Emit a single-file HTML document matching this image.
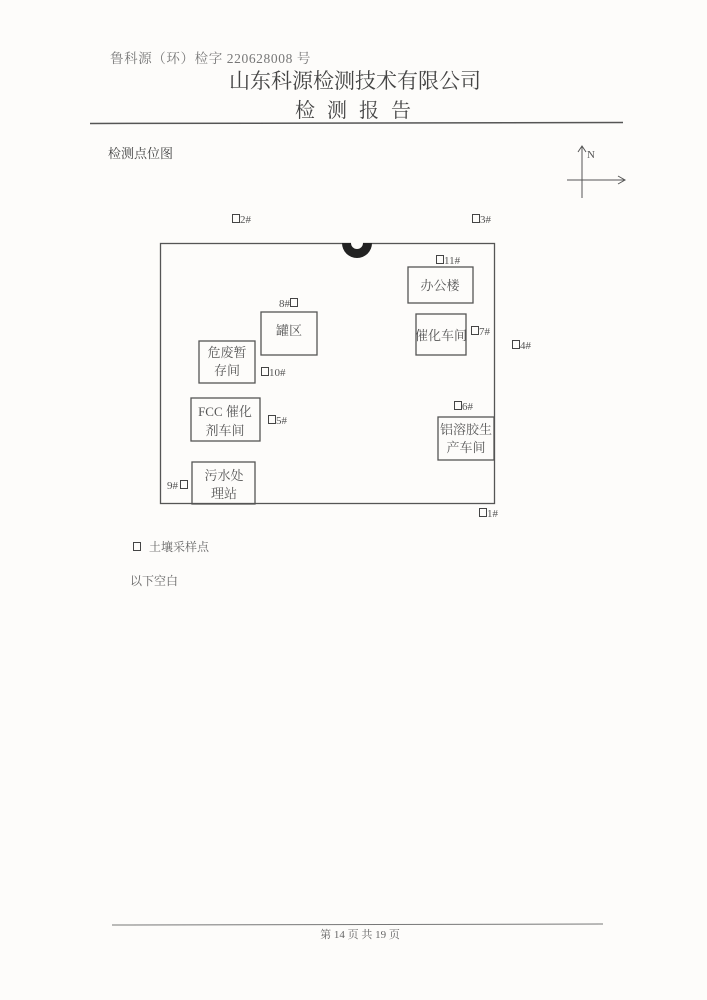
<!DOCTYPE html>
<html><head><meta charset="utf-8"><style>
html,body{margin:0;padding:0;background:#fdfcfa;}
svg{display:block;}
text{font-family:"Liberation Serif","Noto Serif CJK SC","Noto Sans CJK SC",serif;}
</style></head><body>
<svg width="707" height="1000" viewBox="0 0 707 1000" xmlns="http://www.w3.org/2000/svg">
<rect width="707" height="1000" fill="#fdfcfa"/>
<text x="110" y="63" font-size="13.5" fill="#777" letter-spacing="0.6">鲁科源（环）检字 220628008 号</text>
<text x="355" y="88" font-size="21" fill="#444" text-anchor="middle">山东科源检测技术有限公司</text>
<text x="359" y="117" font-size="20" fill="#444" text-anchor="middle" letter-spacing="12">检测报告</text>
<line x1="90" y1="123.5" x2="623" y2="122.5" stroke="#555" stroke-width="1.5"/>
<text x="108" y="158" font-size="13" fill="#444">检测点位图</text>
<g stroke="#555" stroke-width="1" fill="none">
<line x1="582" y1="146" x2="582" y2="198"/>
<line x1="567" y1="180" x2="625" y2="180"/>
<polyline points="578,152 582,146 586,152"/>
<polyline points="618,176 625,180 618,184"/>
</g>
<text x="587" y="158" font-size="11" fill="#555">N</text>
<rect x="160.5" y="243.5" width="334" height="260" fill="none" stroke="#555" stroke-width="1.3"/>
<path d="M342,243 A15,15 0 0 0 372,243 Z" fill="#222"/>
<circle cx="357" cy="243" r="6" fill="#fdfcfa"/>
<g fill="none" stroke="#555" stroke-width="1.3">
<rect x="408" y="267" width="65" height="36"/>
<rect x="261" y="312" width="56" height="43"/>
<rect x="416" y="314" width="50" height="41"/>
<rect x="199" y="341" width="56" height="42"/>
<rect x="191" y="398" width="69" height="43"/>
<rect x="438" y="417" width="56" height="43"/>
<rect x="192" y="462" width="63" height="42"/>
</g>
<g font-size="13" fill="#555" text-anchor="middle">
<text x="440" y="290">办公楼</text>
<text x="289" y="335">罐区</text>
<text x="441" y="340">催化车间</text>
<text x="227" y="357">危废暂</text>
<text x="227" y="375">存间</text>
<text x="225" y="416">FCC 催化</text>
<text x="225" y="435">剂车间</text>
<text x="466" y="434">铝溶胶生</text>
<text x="466" y="452">产车间</text>
<text x="224" y="480">污水处</text>
<text x="224" y="498">理站</text>
</g>
<g fill="none" stroke="#444" stroke-width="1">
<rect x="232.5" y="214.5" width="7" height="8"/>
<rect x="472.5" y="214.5" width="7" height="8"/>
<rect x="436.5" y="255.5" width="7" height="8"/>
<rect x="290.5" y="298.5" width="7" height="8"/>
<rect x="471.5" y="326.5" width="7" height="8"/>
<rect x="512.5" y="340.5" width="7" height="8"/>
<rect x="261.5" y="367.5" width="7" height="8"/>
<rect x="268.5" y="415.5" width="7" height="8"/>
<rect x="454.5" y="401.5" width="7" height="8"/>
<rect x="180.5" y="480.5" width="7" height="8"/>
<rect x="479.5" y="508.5" width="7" height="8"/>
<rect x="133.5" y="542.5" width="7" height="8"/>
</g>
<g font-size="11" fill="#555">
<text x="240" y="223">2#</text>
<text x="480" y="223">3#</text>
<text x="444" y="264">11#</text>
<text x="279" y="307">8#</text>
<text x="479" y="335">7#</text>
<text x="520" y="349">4#</text>
<text x="269" y="376">10#</text>
<text x="276" y="424">5#</text>
<text x="462" y="410">6#</text>
<text x="167" y="489">9#</text>
<text x="487" y="517">1#</text>
</g>
<text x="149" y="551" font-size="12" fill="#666">土壤采样点</text>
<text x="130" y="585" font-size="12" fill="#666">以下空白</text>
<line x1="112" y1="925" x2="603" y2="924" stroke="#777" stroke-width="1"/>
<text x="360" y="938" font-size="11" fill="#666" text-anchor="middle">第 14 页 共 19 页</text>
</svg>
</body></html>
